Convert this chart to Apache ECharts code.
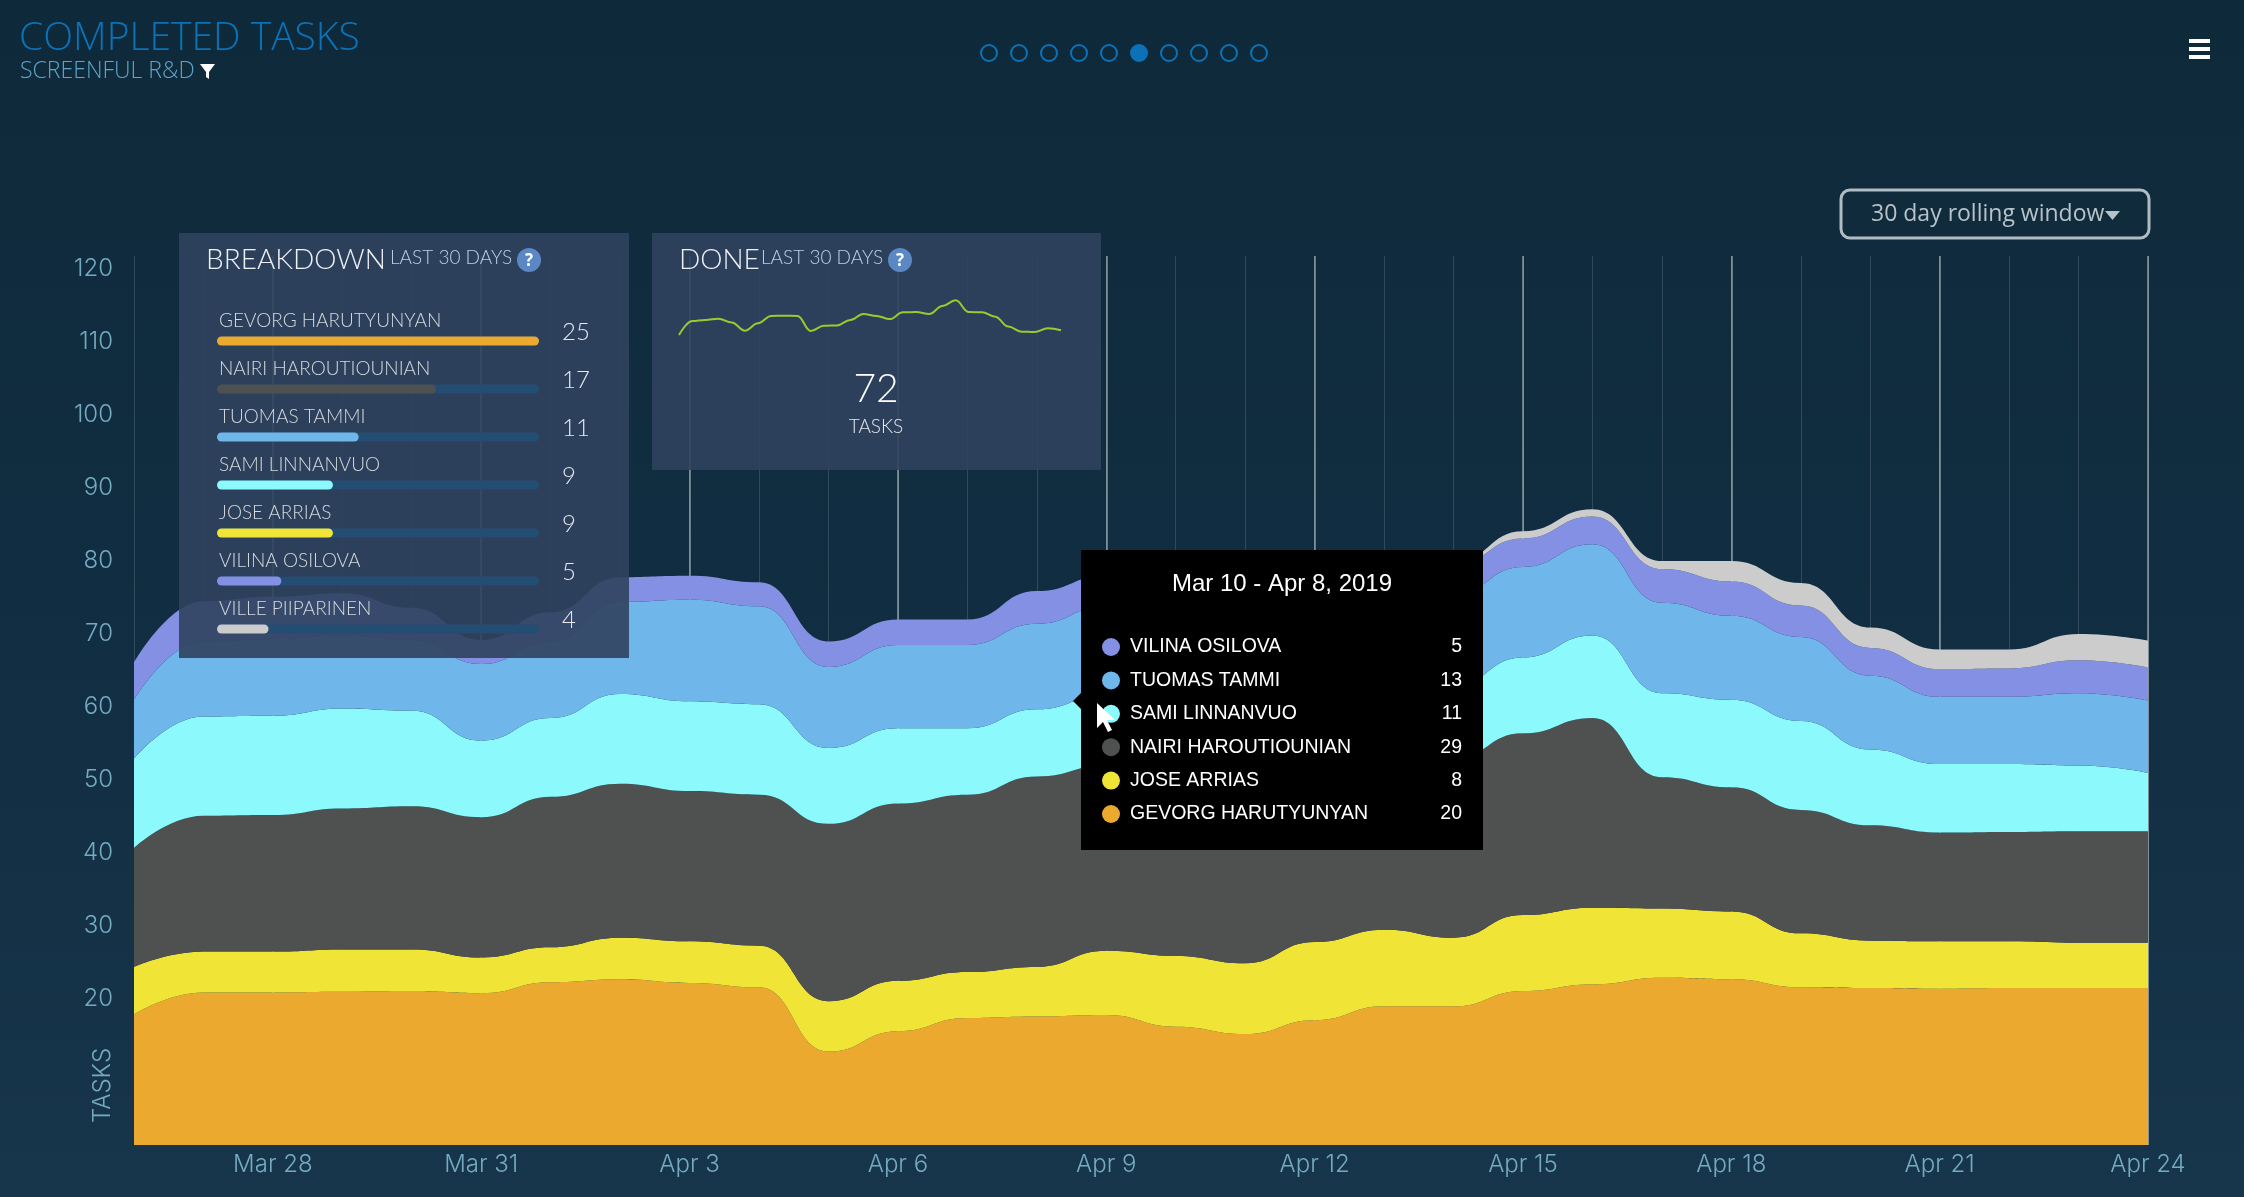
<!DOCTYPE html>
<html>
<head>
<meta charset="utf-8">
<title>Completed tasks</title>
<script src="https://cdn.jsdelivr.net/npm/echarts@6/dist/echarts.min.js"></script>
<style>
  html, body { margin: 0; padding: 0; background: #12303f; }
  #main { width: 2244px; height: 1197px; }
</style>
</head>
<body>
<div id="main"></div>
<script>
var days = ['Mar 26', 'Mar 27', 'Mar 28', 'Mar 29', 'Mar 30', 'Mar 31', 'Apr 1', 'Apr 2', 'Apr 3', 'Apr 4',
  'Apr 5', 'Apr 6', 'Apr 7', 'Apr 8', 'Apr 9', 'Apr 10', 'Apr 11', 'Apr 12', 'Apr 13', 'Apr 14',
  'Apr 15', 'Apr 16', 'Apr 17', 'Apr 18', 'Apr 19', 'Apr 20', 'Apr 21', 'Apr 22', 'Apr 23', 'Apr 24']
var yTicks = [20, 30, 40, 50, 60, 70, 80, 90, 100, 110, 120]

// stacked from the bottom up, tasks per person
var gevorg = [17.9, 20.9, 20.9, 21, 21.1, 20.8, 22.3, 22.7, 22.2, 21.6, 12.8, 15.6, 17.4, 17.6, 17.8, 16.2, 15.2, 17.1, 19, 19, 21.1, 22, 22.9, 22.7, 21.6, 21.5, 21.4, 21.5, 21.5, 21.5]
var jose = [6.5, 5.6, 5.6, 5.8, 5.7, 4.9, 4.8, 5.7, 5.7, 5.7, 6.9, 6.9, 6.3, 6.8, 8.8, 9.7, 9.7, 10.7, 10.5, 9.4, 10.4, 10.5, 9.5, 9.3, 7.4, 6.5, 6.5, 6.4, 6.2, 6.2]
var nairi = [16.3, 18.6, 18.7, 19.3, 19.6, 19.2, 20.6, 21.1, 20.6, 20.7, 24.3, 24.3, 24.3, 26.1, 25.4, 25.6, 25.1, 24.7, 23.5, 24.6, 24.9, 26, 18, 17, 16.9, 15.8, 14.9, 15, 15.3, 15.3]
var sami = [12.2, 13.6, 13.6, 13.7, 13.1, 10.5, 10.8, 12.3, 12.3, 12.4, 10.4, 10.3, 9.1, 9.2, 9.7, 9.5, 9.7, 10, 10, 10, 10.4, 11.3, 11.5, 12, 12.2, 10.4, 9.4, 9.3, 9, 8]
var tuomas = [8.1, 10.3, 10.5, 10, 9.7, 10.5, 10.5, 12.6, 13.9, 13.4, 11.1, 11.4, 11.4, 11.7, 12.1, 11.8, 11.3, 12.3, 12, 12.5, 12.4, 12.5, 12.4, 11.5, 11.5, 10.1, 9.2, 9.2, 9.9, 9.9]
var vilina = [5.1, 5.5, 5.8, 5.8, 4.4, 3.3, 4, 3.4, 3.3, 3.3, 3.5, 3.5, 3.5, 4.5, 4.2, 4.1, 4.1, 4.2, 4.2, 4, 3.9, 3.8, 4.6, 4.7, 4.3, 3.8, 3.8, 3.9, 4.5, 4.5]
var ville = [0, 0, 0, 0, 0, 0, 0, 0, 0, 0, 0, 0, 0, 0, 0, 0, 0, 0, 0, 0.3, 1, 1, 1.1, 2.8, 3.1, 2.8, 2.7, 2.6, 3.6, 3.7]

var breakdownNames = ['GEVORG HARUTYUNYAN', 'NAIRI HAROUTIOUNIAN', 'TUOMAS TAMMI', 'SAMI LINNANVUO', 'JOSE ARRIAS', 'VILINA OSILOVA', 'VILLE PIIPARINEN']
var breakdownValues = [25, 17, 11, 9, 9, 5, 4]
var breakdownColors = ['#eca92f', '#4f5150', '#6fb6eb', '#8cfafc', '#f0e536', '#8490e4', '#cccccc']

var doneTrend = [66, 74, 74.6, 75.3, 73.2, 68.5, 72.7, 76.9, 77, 76.9, 68.3, 71.3, 71.5, 74.6, 78, 76.9, 75.1, 79, 79.1, 78, 82.6, 85.8, 79.1, 79, 76.5, 70.8, 67.9, 67.7, 69.8, 68.7]

var tipTitle = 'Mar 10 - Apr 8, 2019'
var tipNames = ['VILINA OSILOVA', 'TUOMAS TAMMI', 'SAMI LINNANVUO', 'NAIRI HAROUTIOUNIAN', 'JOSE ARRIAS', 'GEVORG HARUTYUNYAN']
var tipValues = [5, 13, 11, 29, 8, 20]
var tipColors = ['#8490e4', '#6fb6eb', '#8cfafc', '#4f5150', '#f0e536', '#eca92f']

var UI_FONT = 'Lato'
var AXIS_COLOR = '#74abc0'

function txt(x, y, text, size, color, opts) {
  opts = opts || {}
  return {
    type: 'text',
    x: x,
    y: y,
    z: opts.z || 30,
    rotation: opts.rotation || 0,
    silent: true,
    style: {
      text: text,
      fontFamily: opts.font || UI_FONT,
      fontSize: size,
      fontWeight: opts.weight || 300,
      fill: color,
      align: opts.align || 'left',
      verticalAlign: 'middle'
    }
  }
}

function poly(points, fill, z) {
  return { type: 'polygon', z: z, silent: true, shape: { points: points }, style: { fill: fill } }
}

function dot(x, y, r, fill, z, stroke) {
  return {
    type: 'circle', z: z, silent: true,
    shape: { cx: x, cy: y, r: r },
    style: { fill: fill, stroke: stroke || null, lineWidth: stroke ? 2 : 0 }
  }
}

function panel(x, y, w, h) {
  return { type: 'rect', z: 10, silent: true, shape: { x: x, y: y, width: w, height: h }, style: { fill: 'rgba(48,66,94,0.9)' } }
}

function helpIcon(x, y) {
  return [
    dot(x, y, 12, '#5b88c4', 30),
    txt(x, y + 1, '?', 17, '#ffffff', { align: 'center', weight: 700, font: 'Open Sans', z: 31 })
  ]
}

function buildGraphics() {
  var g = []
  // header
  g.push(txt(19, 39, 'COMPLETED TASKS', 39, '#0c72b8', { font: 'Open Sans' }))
  g.push(txt(20, 71, 'SCREENFUL R&D', 23, '#5ea5c9', { font: 'Open Sans' }))
  g.push(poly([[200, 64], [215, 64], [209, 72], [209, 79], [206, 77], [206, 72]], '#ffffff', 30))
  for (var i = 0; i < 10; i++) {
    g.push(dot(989 + i * 30, 53, 8, i == 5 ? '#0c72b8' : 'rgba(0,0,0,0)', 30, '#0c72b8'))
  }
  for (var k = 0; k < 3; k++) {
    g.push({ type: 'rect', z: 30, silent: true, shape: { x: 2189, y: 39 + k * 8, width: 21, height: 4 }, style: { fill: '#ffffff' } })
  }
  // range picker
  g.push({
    type: 'rect', z: 30, silent: true,
    shape: { x: 1841, y: 190, width: 308, height: 48, r: 9 },
    style: { fill: 'rgba(0,0,0,0)', stroke: '#b0bbc4', lineWidth: 3 }
  })
  g.push(txt(1871, 214, '30 day rolling window', 23, '#b8c2c9', { font: 'Open Sans', weight: 400 }))
  g.push(poly([[2105, 211], [2120, 211], [2112.5, 220]], '#b8c2c9', 30))

  g.push(txt(103, 1123, 'TASKS', 24, AXIS_COLOR, { font: 'Inter', rotation: Math.PI / 2 }))

  // breakdown panel
  g.push(panel(179, 233, 450, 425))
  g.push(txt(206, 260, 'BREAKDOWN', 28, '#eef1f4'))
  g.push(txt(390, 258, 'LAST 30 DAYS', 19, '#b9d2e4'))
  g = g.concat(helpIcon(529, 260))
  breakdownNames.forEach(function (name, i) {
    g.push(txt(219, 321 + i * 48, name, 19, '#d5dade'))
    g.push(txt(562, 332 + i * 48, String(breakdownValues[i]), 24, '#e6e9ee'))
  })

  // done panel
  g.push(panel(652, 233, 449, 237))
  g.push(txt(679, 260, 'DONE', 28, '#eef1f4'))
  g.push(txt(761, 258, 'LAST 30 DAYS', 19, '#b9d2e4'))
  g = g.concat(helpIcon(900, 260))
  g.push(txt(876, 389, '72', 39, '#ffffff', { align: 'center' }))
  g.push(txt(876, 427, 'TASKS', 19, '#e6e9ee', { align: 'center' }))

  // hover box
  g.push({ type: 'rect', z: 40, silent: true, shape: { x: 1081, y: 550, width: 402, height: 300 }, style: { fill: '#000000' } })
  g.push(poly([[1073, 701], [1081, 693], [1081, 709]], '#000000', 40))
  g.push(txt(1282, 584, tipTitle, 24, '#ffffff', { font: 'Liberation Sans', weight: 400, align: 'center', z: 41 }))
  tipNames.forEach(function (name, i) {
    var y = 647 + i * 33.4
    g.push(dot(1111, y, 9, tipColors[i], 41))
    g.push(txt(1130, y, name, 19.5, '#ffffff', { font: 'Liberation Sans', weight: 400, z: 41 }))
    g.push(txt(1462, y, String(tipValues[i]), 19.5, '#ffffff', { font: 'Liberation Sans', weight: 400, align: 'right', z: 41 }))
  })
  // mouse pointer
  g.push(poly([[1097, 703], [1097, 728], [1103, 722], [1108, 732], [1112, 730], [1107, 720], [1115, 720]], '#ffffff', 42))
  return g
}

function area(name, data, color) {
  return {
    name: name,
    type: 'line',
    stack: 'tasks',
    data: data,
    smooth: 0.5,
    smoothMonotone: 'x',
    symbol: 'none',
    silent: true,
    lineStyle: { width: 0 },
    areaStyle: { color: color, opacity: 1 }
  }
}

var chart = echarts.init(document.getElementById('main'), null, { renderer: 'canvas' })

chart.setOption({
  animation: false,
  backgroundColor: {
    type: 'linear', x: 0, y: 0, x2: 0, y2: 1,
    colorStops: [
      { offset: 0, color: '#0e2a3a' },
      { offset: 0.5, color: '#112d41' },
      { offset: 1, color: '#17354b' }
    ]
  },
  grid: [
    { left: 134, right: 96, top: 256, bottom: 52 },
    { left: 217, width: 322, top: 317, height: 336 },
    { left: 679, width: 382, top: 300, height: 35 }
  ],
  xAxis: [
    {
      type: 'category',
      data: days,
      boundaryGap: false,
      axisLine: { show: false },
      axisTick: { show: false },
      axisLabel: {
        color: AXIS_COLOR,
        fontFamily: 'Inter',
        fontWeight: 300,
        fontSize: 24,
        margin: 8,
        hideOverlap: false,
        interval: function (i) { return (i - 2) % 3 == 0 }
      },
      splitLine: { show: true, interval: 0, lineStyle: { color: 'rgba(255,255,255,0.14)', width: 1 } }
    },
    {
      // the every third day lines sit on top of the areas
      type: 'category',
      data: days,
      boundaryGap: false,
      z: 3,
      axisLine: { show: false },
      axisTick: { show: false },
      axisLabel: { show: false },
      splitLine: {
        show: true,
        interval: function (i) { return (i - 2) % 3 == 0 },
        lineStyle: { color: 'rgba(255,255,255,0.38)', width: 2 }
      }
    },
    { type: 'value', gridIndex: 1, min: 0, max: 25, show: false },
    { type: 'category', gridIndex: 2, data: days, boundaryGap: false, show: false }
  ],
  yAxis: [
    {
      type: 'value',
      min: 0,
      max: 121.8,
      interval: 10,
      axisLine: { show: false },
      axisTick: { show: false },
      splitLine: { show: false },
      axisLabel: {
        customValues: yTicks,
        color: AXIS_COLOR,
        fontFamily: 'Inter',
        fontWeight: 300,
        fontSize: 24,
        margin: 21
      }
    },
    { type: 'category', gridIndex: 1, data: breakdownNames, inverse: true, show: false },
    { type: 'value', gridIndex: 2, min: 66, max: 86, show: false }
  ],
  series: [
    area('GEVORG HARUTYUNYAN', gevorg, '#eca92f'),
    area('JOSE ARRIAS', jose, '#f0e536'),
    area('NAIRI HAROUTIOUNIAN', nairi, '#4f5150'),
    area('SAMI LINNANVUO', sami, '#8cfafc'),
    area('TUOMAS TAMMI', tuomas, '#6fb6eb'),
    area('VILINA OSILOVA', vilina, '#8490e4'),
    area('VILLE PIIPARINEN', ville, '#cccccc'),
    {
      name: 'Breakdown',
      type: 'bar',
      xAxisIndex: 2,
      yAxisIndex: 1,
      z: 20,
      barWidth: 9,
      silent: true,
      data: breakdownValues.map(function (v, i) {
        return { value: v, itemStyle: { color: breakdownColors[i] } }
      }),
      itemStyle: { borderRadius: 5 },
      showBackground: true,
      backgroundStyle: { color: '#234d72', borderRadius: 5, opacity: 1 }
    },
    {
      name: 'Done',
      type: 'line',
      xAxisIndex: 3,
      yAxisIndex: 2,
      z: 20,
      data: doneTrend,
      smooth: 0.4,
      smoothMonotone: 'x',
      symbol: 'none',
      silent: true,
      lineStyle: { color: '#9acb2e', width: 2 }
    }
  ],
  graphic: { elements: buildGraphics() }
})
</script>
</body>
</html>
